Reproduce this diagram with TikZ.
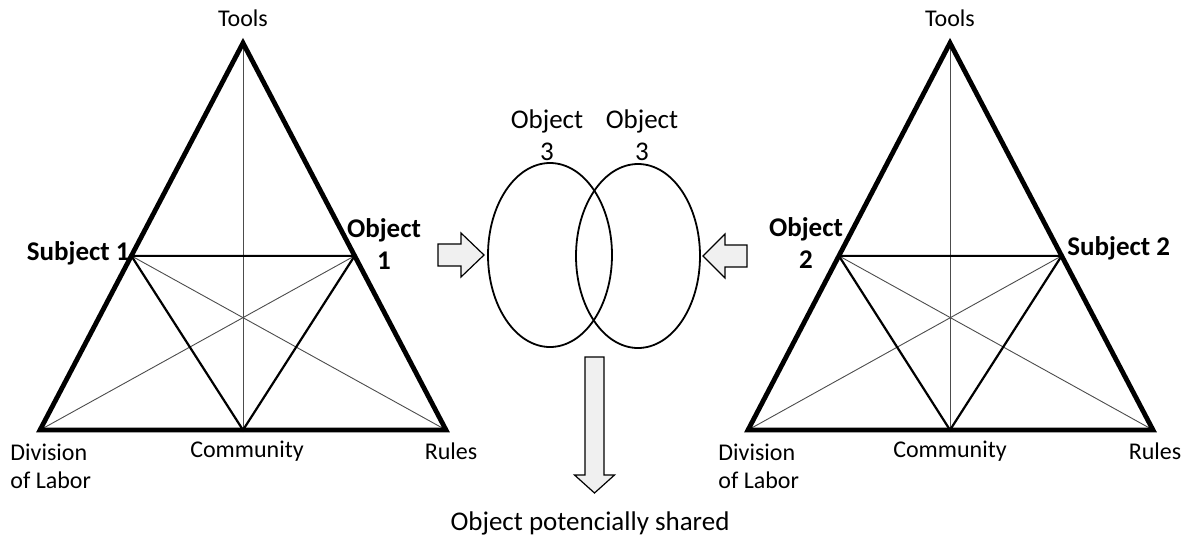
\documentclass[tikz,border=0pt]{standalone}
\usepackage{fontspec}
\setmainfont{Carlito}
\usetikzlibrary{positioning,calc,shapes.geometric}

\begin{document}
\begin{tikzpicture}[x=0.5pt,y=-0.5pt,
  frame/.style={line width=2.4pt},
  link/.style={line width=1.1pt},
  thinlink/.style={line width=0.45pt, draw=black!70},
  vlabel/.style={font=\fontsize{12}{14}\selectfont, inner sep=0pt},
  blabel/.style={font=\fontsize{13.5}{16}\selectfont\bfseries, inner sep=0pt, align=center},
  olabel/.style={font=\fontsize{13.5}{16}\selectfont, inner sep=0pt, align=center},
  venn/.style={ellipse, draw, line width=0.9pt, minimum width=62pt, minimum height=92pt, inner sep=0pt},
  blockarrow/.style={draw, line width=0.6pt, fill=black!6},
]
\useasboundingbox (0,0) rectangle (1189,536);

% left activity triangle
\coordinate (t1) at (243,43);
\coordinate (d1) at (40,430);
\coordinate (r1) at (446,430);
\coordinate (c1) at (243,430);
\coordinate (s1) at ($(t1)!0.55!(d1)$);
\coordinate (o1) at ($(t1)!0.55!(r1)$);

\draw[thinlink] (t1) -- (c1);
\draw[thinlink] (d1) -- (o1);
\draw[thinlink] (r1) -- (s1);
\draw[link] (s1) -- (o1) -- (c1) -- cycle;
\draw[frame] (t1) -- (d1) -- (r1) -- cycle;

\node[vlabel] (tools1) at (243,18) {Tools};
\node[blabel, anchor=east] (subj1) at (130,253) {Subject 1};
\node[blabel] (obj1) at (384,244) {Object\\1};
\node[vlabel, align=left, anchor=west] (div1) at (10,466) {Division\\of Labor};
\node[vlabel] (comm1) at (247,451) {Community};
\node[vlabel] (rules1) at (451,451) {Rules};

% right activity triangle
\coordinate (t2) at (950,43);
\coordinate (d2) at (748,430);
\coordinate (r2) at (1153,430);
\coordinate (c2) at (950,430);
\coordinate (o2) at ($(t2)!0.55!(d2)$);
\coordinate (s2) at ($(t2)!0.55!(r2)$);

\draw[thinlink] (t2) -- (c2);
\draw[thinlink] (d2) -- (s2);
\draw[thinlink] (r2) -- (o2);
\draw[link] (o2) -- (s2) -- (c2) -- cycle;
\draw[frame] (t2) -- (d2) -- (r2) -- cycle;

\node[vlabel] (tools2) at (950,18) {Tools};
\node[blabel] (obj2) at (806,243) {Object\\2};
\node[blabel, anchor=west] (subj2) at (1067,248) {Subject 2};
\node[vlabel, align=left, anchor=west] (div2) at (718,466) {Division\\of Labor};
\node[vlabel] (comm2) at (950,451) {Community};
\node[vlabel] (rules2) at (1155,451) {Rules};

% shared objects
\node[venn] (e1) at (550,255) {};
\node[venn] (e2) at (638,256) {};
\node[olabel] (obj3a) at (547,135) {Object\\3};
\node[olabel] (obj3b) at (642,135) {Object\\3};

% block arrows
\coordinate (inL) at (438,255);
\coordinate (inR) at (747,256);
\coordinate (down) at (594.5,357);
\draw[blockarrow] (inL) ++(0,-11) -- ++(23,0) -- ++(0,-11) -- ++(23,22) -- ++(-23,22) -- ++(0,-11) -- ++(-23,0) -- cycle;
\draw[blockarrow] (inR) ++(0,-11) -- ++(-22,0) -- ++(0,-11) -- ++(-22,22) -- ++(22,22) -- ++(0,-11) -- ++(22,0) -- cycle;
\draw[blockarrow] (down) ++(-9.5,0) -- ++(19,0) -- ++(0,118) -- ++(10.5,0) -- ++(-20,18) -- ++(-20,-18) -- ++(10.5,0) -- cycle;

\node[olabel] (shared) at (590,523) {Object potencially shared};
\end{tikzpicture}
\end{document}
